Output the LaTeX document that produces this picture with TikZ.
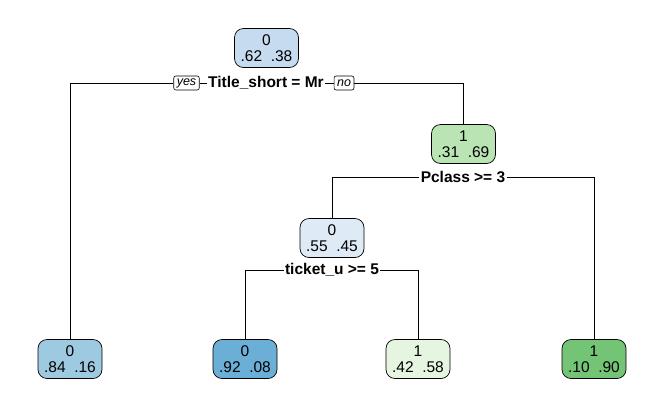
\documentclass[tikz,border=0pt]{standalone}
\usepackage{fontspec}
\setmainfont{Liberation Sans}
\definecolor{rootblue}{HTML}{C6DBEF}
\definecolor{midgreen}{HTML}{BAE4B3}
\definecolor{paleblue}{HTML}{DEEBF7}
\definecolor{leafblue}{HTML}{9ECAE1}
\definecolor{deepblue}{HTML}{6BAED6}
\definecolor{palegreen}{HTML}{E5F5E0}
\definecolor{deepgreen}{HTML}{74C476}
\tikzset{
  treebox/.style={draw, rounded corners=9pt, minimum width=64pt, minimum height=39pt,
    align=center, inner sep=1pt, line width=0.7pt, font=\fontsize{15.5}{16}\selectfont},
  splitlbl/.style={fill=white, inner sep=1pt, font=\bfseries\fontsize{15.5}{17}\selectfont},
  yesno/.style={draw, fill=white, rounded corners=2pt, inner xsep=3pt, inner ysep=1pt,
    minimum height=14pt, line width=0.6pt, font=\itshape\fontsize{12.5}{13}\selectfont}
}
\begin{document}
\begin{tikzpicture}[x=1pt,y=-1pt,line width=0.7pt]
\useasboundingbox (0,0) rectangle (661,408);
\node[treebox,fill=rootblue] (root) at (266.5,48) {0\\.62~~.38};
\node[treebox,fill=midgreen] (n2) at (463.5,144) {1\\.31~~.69};
\node[treebox,fill=paleblue] (n3) at (332,238) {0\\.55~~.45};
\node[treebox,fill=leafblue] (l1) at (70,359) {0\\.84~~.16};
\node[treebox,fill=deepblue] (l2) at (245,359) {0\\.92~~.08};
\node[treebox,fill=palegreen] (l3) at (418,359) {1\\.42~~.58};
\node[treebox,fill=deepgreen] (l4) at (594,359) {1\\.10~~.90};

\node[splitlbl] (s1) at (266,83) {Title\_short = Mr};
\node[yesno] (yes) at (186.5,83) {yes};
\node[yesno] (no) at (344,83) {no};
\node[splitlbl] (s2) at (463,177) {Pclass >= 3};
\node[splitlbl] (s3) at (332,270) {ticket\_u >= 5};

\draw (l1) |- (yes);
\draw (yes) -- (s1);
\draw (s1) -- (no);
\draw (no) -| (n2);
\draw (n3) |- (s2);
\draw (s2) -| (l4);
\draw (l2) |- (s3);
\draw (s3) -| (l3);
\end{tikzpicture}
\end{document}
